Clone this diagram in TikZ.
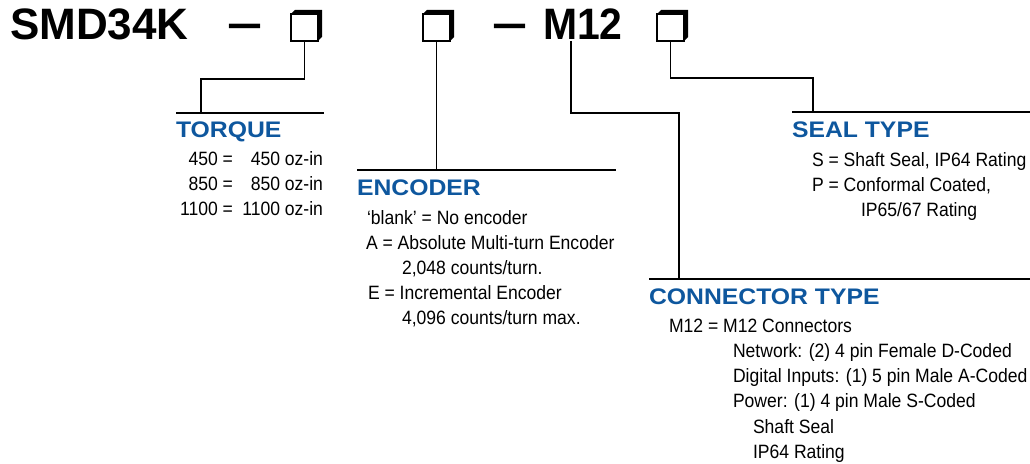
\documentclass[tikz,border=0pt]{standalone}
\usepackage{fontspec}
\setmainfont{Liberation Sans}
\newfontfamily\titlefont{Liberation Sans}
\newfontfamily\dashfont{Liberation Sans}[FakeStretch=1.4]
\newfontfamily\mtwelvefont{Liberation Sans}[FakeStretch=0.93]
\newfontfamily\headfont{Liberation Sans}[FakeStretch=1.1]
\newfontfamily\bodyfont{Liberation Sans}[FakeStretch=0.91]
\definecolor{headblue}{RGB}{14,87,158}
\tikzset{
  titletext/.style={inner sep=0pt, outer sep=0pt, anchor=base west, font=\titlefont\bfseries\fontsize{44bp}{44bp}\selectfont},
  dashtext/.style={inner sep=0pt, outer sep=0pt, anchor=base, font=\dashfont\bfseries\fontsize{45bp}{45bp}\selectfont},
  headtext/.style={inner sep=0pt, outer sep=0pt, anchor=base west, text=headblue, font=\headfont\bfseries\fontsize{22.5bp}{22.5bp}\selectfont},
  bodytext/.style={inner sep=0pt, outer sep=0pt, anchor=base west, font=\bodyfont\fontsize{19.3bp}{19.3bp}\selectfont},
  bodyright/.style={bodytext, anchor=base east},
  frontbox/.style={draw, fill=white, line width=1.3bp, minimum size=27bp, inner sep=0pt, outer sep=0pt},
  rulebar/.style={line width=2.4bp},
  wire/.style={line width=1.5bp}
}
\begin{document}
\begin{tikzpicture}[x=1bp, y=-1bp]
\useasboundingbox (0,0) rectangle (1030,464);

% title row
\node[titletext] (smd) at (10,40) {SMD34K};
\node[dashtext] (d1) at (245,39) {–};
\node[dashtext] (d2) at (510,39) {–};
\node[titletext, font=\mtwelvefont\bfseries\fontsize{44bp}{44bp}\selectfont] (m12) at (543,40) {M12};

\foreach \n/\x in {b1/304.5, b2/436.5, b3/670.5}{
  \node[frontbox] (\n) at (\x,27.5) {};
  \fill (\n.north west) -- ++(4,-4) -- ++(27,0) -- ++(0,27) -- ++(-4,4) -- ++(0,-27) -- cycle;
}

% rules
\coordinate (tqa) at (176,113);  \coordinate (tqb) at (324,113);
\coordinate (ena) at (357,170);  \coordinate (enb) at (616,170);
\coordinate (sla) at (792,112);  \coordinate (slb) at (1030,112);
\coordinate (cna) at (649,279);  \coordinate (cnb) at (1030,279);
\draw[rulebar] (tqa) -- (tqb);
\draw[rulebar] (ena) -- (enb);
\draw[rulebar] (sla) -- (slb);
\draw[rulebar] (cna) -- (cnb);

% joints
\coordinate (tqj) at (201,113);
\coordinate (enj) at (436.5,170);
\coordinate (slj) at (813,112);
\coordinate (cnj) at (679,279);
\coordinate (m12s) at (571,41);

\draw[wire] (b1.south) -- ++(0,38) -| (tqj);
\draw[wire] (b2.south) -- (enj);
\draw[wire] (m12s) -- ++(0,72) -| (cnj);
\draw[wire] (b3.south) -- ++(0,37) -| (slj);

% TORQUE
\node[headtext] (tqh) at (176,138) {TORQUE};
\node[bodyright] (tq1l) at (233,166) {450 =};
\node[bodyright] (tq1r) at (323,166) {450 oz-in};
\node[bodyright] (tq2l) at (233,191) {850 =};
\node[bodyright] (tq2r) at (323,191) {850 oz-in};
\node[bodyright] (tq3l) at (233,216) {1100 =};
\node[bodyright] (tq3r) at (323,216) {1100 oz-in};

% ENCODER
\node[headtext] (enh) at (357,196) {ENCODER};
\node[bodytext] (en1) at (367,225) {‘blank’ = No encoder};
\node[bodytext] (en2) at (366,250) {A = Absolute Multi-turn Encoder};
\node[bodytext] (en3) at (402,275) {2,048 counts/turn.};
\node[bodytext] (en4) at (368,300) {E = Incremental Encoder};
\node[bodytext] (en5) at (402,325) {4,096 counts/turn max.};

% SEAL TYPE
\node[headtext] (slh) at (792,138) {SEAL TYPE};
\node[bodytext] (sl1) at (812,167) {S = Shaft Seal, IP64 Rating};
\node[bodytext] (sl2) at (812,192) {P = Conformal Coated,};
\node[bodytext] (sl3) at (861,217) {IP65/67 Rating};

% CONNECTOR TYPE
\node[headtext] (cnh) at (649,305) {CONNECTOR TYPE};
\node[bodytext] (cn1) at (669,333) {M12 = M12 Connectors};
\node[bodytext] (cn2) at (733,358) {Network: (2) 4 pin Female D-Coded};
\node[bodytext] (cn3) at (733,383) {Digital Inputs: (1) 5 pin Male A-Coded};
\node[bodytext] (cn4) at (733,408) {Power: (1) 4 pin Male S-Coded};
\node[bodytext] (cn5) at (753,433) {Shaft Seal};
\node[bodytext] (cn6) at (753,458) {IP64 Rating};
\end{tikzpicture}
\end{document}
